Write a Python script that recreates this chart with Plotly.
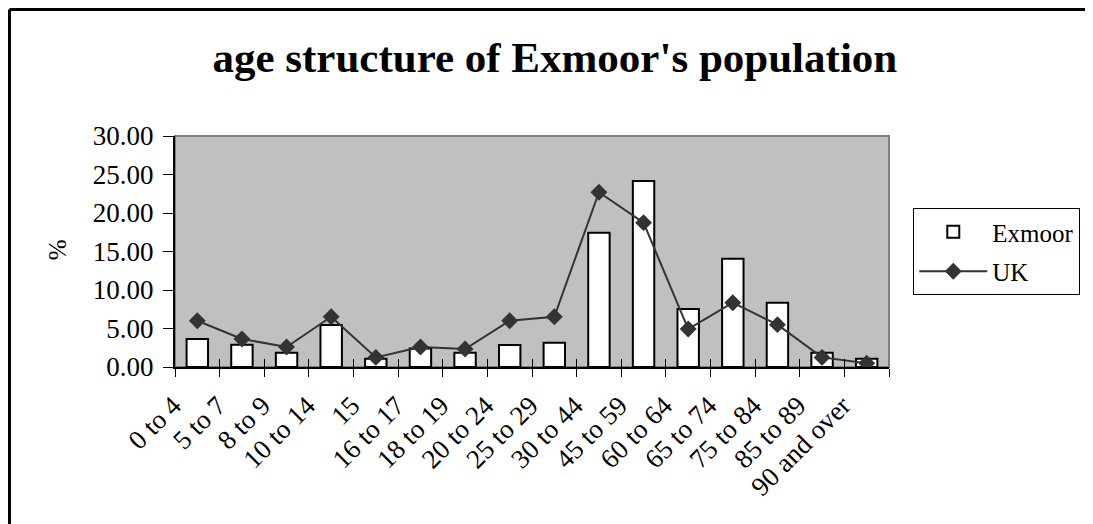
import plotly.graph_objs as go

age_groups = ['0 to 4', '5 to 7', '8 to 9', '10 to 14', '15', '16 to 17', '18 to 19',
              '20 to 24', '25 to 29', '30 to 44', '45 to 59', '60 to 64', '65 to 74',
              '75 to 84', '85 to 89', '90 and over']
exmoor = [3.64, 2.90, 1.86, 5.45, 1.08, 2.40, 1.86, 2.86, 3.16, 17.44, 24.16,
          7.53, 14.07, 8.35, 1.86, 1.08]
uk = [6.00, 3.64, 2.60, 6.53, 1.25, 2.60, 2.34, 6.00, 6.53, 22.70, 18.75,
      4.93, 8.35, 5.50, 1.25, 0.50]

serif = 'Liberation Serif'

fig = go.Figure()

fig.add_trace(go.Bar(
    x=age_groups,
    y=exmoor,
    name='Exmoor',
    marker=dict(color='white', line=dict(color='black', width=2)),
    legendgroup='a',
))

fig.add_trace(go.Scatter(
    x=age_groups,
    y=uk,
    name='UK',
    xaxis='x2',
    mode='markers+lines',
    marker=dict(symbol='diamond', size=13, color='#333333'),
    line=dict(width=2, color='#333333'),
    legendgroup='b',
))

xaxis_common = dict(
    type='category',
    categoryorder='array',
    categoryarray=age_groups,
    range=[-0.5, len(age_groups) - 0.5],
    tickson='boundaries',
    ticklen=8,
    tickwidth=1,
    tickcolor='black',
    showgrid=False,
    zeroline=False,
)

# the page body adds an 8px offset, so margins are trimmed by 8 on top/left
fig.update_layout(
    width=1093,
    height=524,
    margin=dict(l=167, r=212, t=128, b=165),
    paper_bgcolor='white',
    plot_bgcolor='#C0C0C0',
    font=dict(family=serif, size=22, color='black'),
    bargap=0.52,
    title=dict(
        text="<b>age structure of Exmoor's population</b>",
        font=dict(family=serif, size=43, color='black'),
        x=0.532, xref='paper', xanchor='center',
        y=1 - 49 / 524, yref='container', yanchor='middle',
    ),
    xaxis=dict(
        **xaxis_common,
        ticks='outside',
        tickangle=-45,
        showline=True,
        linecolor='black',
        linewidth=2,
        tickfont=dict(family=serif, size=27),
        ticklabelshift=-24,
        ticklabelstandoff=10,
    ),
    xaxis2=dict(
        **xaxis_common,
        overlaying='x',
        side='bottom',
        ticks='inside',
        showticklabels=False,
        showline=False,
    ),
    yaxis=dict(
        range=[0, 30],
        tickvals=[0, 5, 10, 15, 20, 25, 30],
        tickformat='.2f',
        ticks='outside',
        ticklen=10,
        tickcolor='black',
        showline=True,
        linecolor='black',
        linewidth=2,
        showgrid=False,
        zeroline=False,
        tickfont=dict(family=serif, size=27),
        ticklabelstandoff=4,
    ),
    legend=dict(
        x=1.034, y=0.688, xanchor='left', yanchor='top',
        bgcolor='white', bordercolor='black', borderwidth=1,
        font=dict(family=serif, size=25),
        traceorder='grouped', tracegroupgap=4,
        itemwidth=68,
    ),
    annotations=[dict(
        text='%', textangle=-90, showarrow=False,
        xref='paper', yref='paper', x=-0.165, y=0.506,
        xanchor='center', yanchor='middle',
        font=dict(family=serif, size=25),
    )],
    shapes=[
        # grey frame on the top and right of the plot area
        dict(type='rect', xref='paper', yref='paper', x0=0, x1=1, y0=0, y1=1,
             line=dict(color='#808080', width=2), layer='below'),
        # chart border (top and left only are visible)
        dict(type='line', xref='paper', yref='paper', x0=-0.2318, x1=1.3,
             y0=1.548, y1=1.548, line=dict(color='black', width=3)),
        dict(type='line', xref='paper', yref='paper', x0=-0.2318, x1=-0.2318,
             y0=1.548, y1=-0.7, line=dict(color='black', width=3)),
    ],
)

fig.write_html("out.html")
